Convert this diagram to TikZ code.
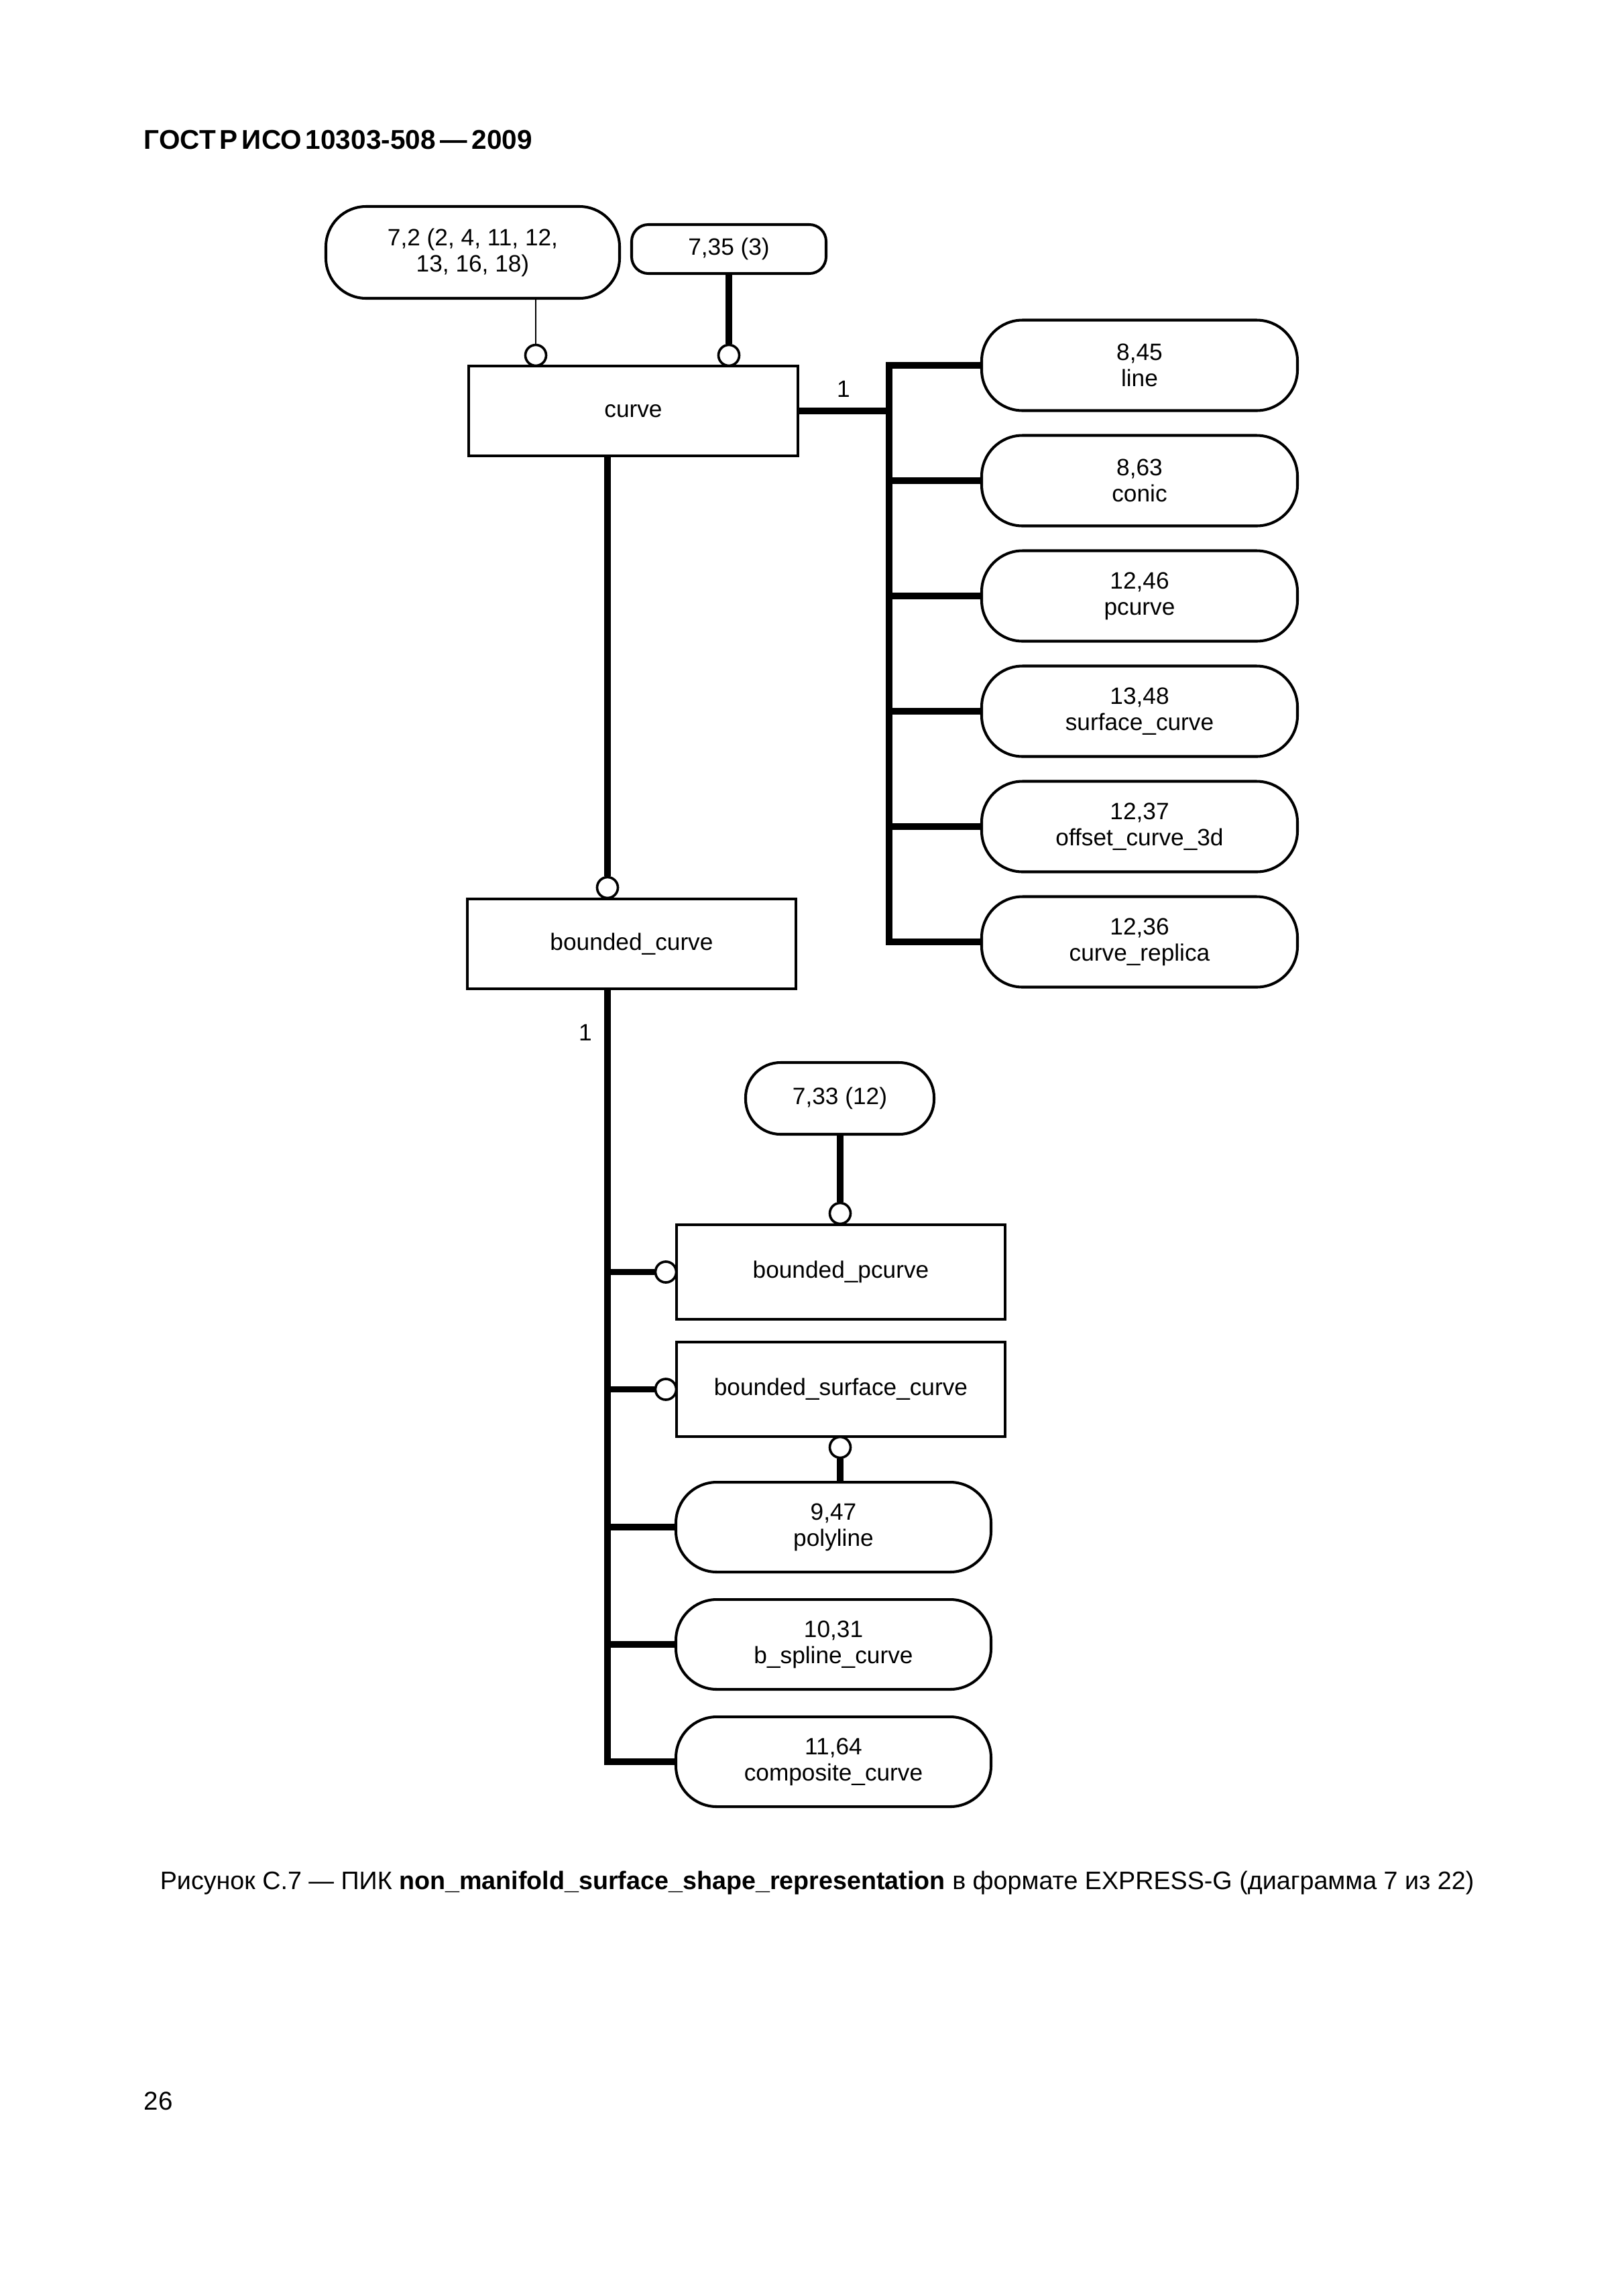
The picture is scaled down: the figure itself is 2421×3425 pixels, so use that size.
\documentclass[tikz,border=0pt]{standalone}
\usepackage{fontspec}
\setmainfont{Liberation Sans}
\newlength{\pxu}
\setlength{\pxu}{0.086741mm}
\newcommand{\diagfont}{\fontsize{8.7}{9.6}\selectfont}
\begin{document}
\begin{tikzpicture}[x=0.086741mm, y=-0.086741mm]

    \tikzset{
      entity/.style={
        draw,
        line width=1pt,
        inner sep=0pt,
        minimum width=491*\pxu,
        minimum height=134*\pxu,
        font=\diagfont,
        align=center,
      },
      pageref/.style={
        draw,
        line width=1pt,
        rounded corners=61*\pxu,
        inner sep=0pt,
        minimum width=471*\pxu,
        minimum height=135*\pxu,
        font=\diagfont,
        align=center,
      },
      ring/.style={
        draw,
        circle,
        line width=0.9pt,
        fill=white,
        inner sep=0pt,
        minimum size=31*\pxu,
      },
      subline/.style={line width=2.3pt},
      thinline/.style={line width=0.6pt},
    }
    \fill[white] (0,0) rectangle (2421,3425);
    \useasboundingbox (0,0) rectangle (2421,3425);

	\node[anchor=base west, inner sep=0pt, font=\bfseries\fontsize{10}{12}\selectfont] (title) at (214,222) {\spaceskip=1.5pt ГОСТ Р ИСО 10303-508\,—\,2009};

	\node[pageref, minimum width=438*\pxu, minimum height=137*\pxu, rounded corners=60*\pxu] (ref72) at (705,376.5) {7,2 (2, 4, 11, 12,\\13, 16, 18)};
	\node[pageref, minimum width=290*\pxu, minimum height=73*\pxu, rounded corners=25*\pxu] (ref735) at (1087,371.5) {7,35 (3)};
	\node[entity] (curve) at (944.5,613) {curve};
	\node[ring] (ringa) at (799,530) {};
	\node[ring] (ringb) at (1087,530) {};
	\draw[thinline] (ringa |- ref72.south) -- (ringa.north);
	\draw[subline] (ringb |- ref735.south) -- (ringb.north);

	\foreach \name/\num/\lab [count=\i from 0] in {line/{8,45}/line, conic/{8,63}/conic, pcurve/{12,46}/pcurve, surfcurve/{13,48}/surface\_curve, offsetcurve/{12,37}/offset\_curve\_3d, replica/{12,36}/curve\_replica}
	    \node[pageref] (\name) at (1699.5,{545+172*\i}) {\num\\\lab};
	\coordinate (rbus) at (1326,0);
	\draw[subline] (line.west) -| (rbus |- replica.west) -- (replica.west);
	\foreach \name in {conic,pcurve,surfcurve,offsetcurve}
	    \draw[subline] (rbus |- \name.west) -- (\name.west);
	\draw[subline] (curve.east) -- (rbus |- curve.east);
	\node[font=\diagfont] (card1) at (1258,580) {1};

	\node[entity, minimum width=490*\pxu] (bcurve) at (942,1408) {bounded\_curve};
	\node[ring] (ringc) at (906,1324) {};
	\draw[subline] (ringc |- curve.south) -- (ringc.north);
	\node[font=\diagfont] (card2) at (873,1540) {1};

	\node[pageref, minimum width=281*\pxu, minimum height=107*\pxu, rounded corners=52*\pxu] (ref733) at (1252.5,1638.5) {7,33 (12)};
	\node[entity, minimum width=490*\pxu, minimum height=141*\pxu] (bpcurve) at (1254,1897.5) {bounded\_pcurve};
	\node[entity, minimum width=490*\pxu, minimum height=141*\pxu] (bscurve) at (1254,2072.5) {bounded\_surface\_curve};
	\node[ring] (ringd) at (1253,1810) {};
	\node[ring] (ringe) at (993,1897.5) {};
	\node[ring] (ringf) at (993,2072.5) {};
	\node[ring] (ringg) at (1253,2159) {};
	\foreach \name/\num/\lab [count=\i from 0] in {polyline/{9,47}/polyline, bspline/{10,31}/b\_spline\_curve, composite/{11,64}/composite\_curve}
	    \node[pageref, minimum width=470*\pxu, minimum height=134*\pxu] (\name) at (1243,{2278+175*\i}) {\num\\\lab};

	\draw[subline] (ringd |- ref733.south) -- (ringd.north);
	\draw[subline] (ringg.south) -- (ringg |- polyline.north);
	\draw[subline] (ringc |- bcurve.south) -- (ringc |- composite.west) -- (composite.west);
	\foreach \name in {ringe,ringf,polyline,bspline}
	    \draw[subline] (ringc |- \name.west) -- (\name.west);

	\node[anchor=base west, inner sep=0pt, font=\fontsize{9.3}{11}\selectfont] (caption) at (238,2818) {Рисунок С.7 — ПИК \textbf{non\_manifold\_surface\_shape\_representation} в формате EXPRESS-G (диаграмма 7 из 22)};
	\node[anchor=base west, inner sep=0pt, font=\fontsize{9.5}{11}\selectfont] (pagenum) at (214,3147) {26};

\end{tikzpicture}
\end{document}
